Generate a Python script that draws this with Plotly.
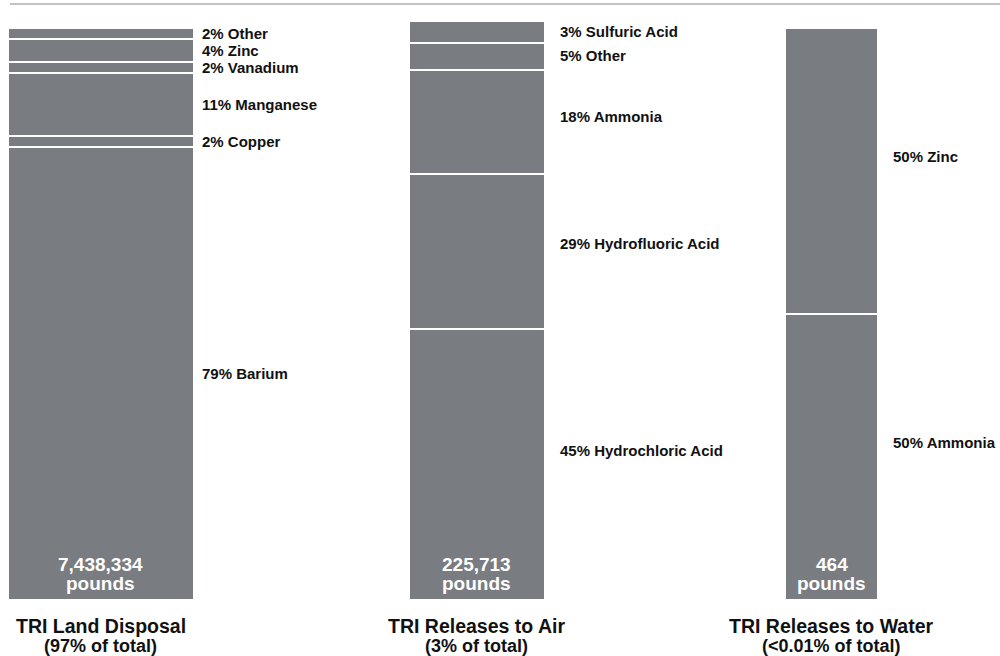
import plotly.graph_objects as go

# ---------------- data ----------------
land_categories = ["Barium", "Copper", "Manganese", "Vanadium", "Zinc", "Other"]
land_values = [79.2, 1.9, 11.1, 1.9, 4.0, 1.9]
land_labels = ["79% Barium", "2% Copper", "11% Manganese", "2% Vanadium", "4% Zinc", "2% Other"]

air_categories = ["Hydrochloric Acid", "Hydrofluoric Acid", "Ammonia", "Other", "Sulfuric Acid"]
air_values = [47.4, 27.0, 18.3, 4.6, 3.9]
air_labels = ["45% Hydrochloric Acid", "29% Hydrofluoric Acid", "18% Ammonia", "5% Other", "3% Sulfuric Acid"]

water_categories = ["Ammonia", "Zinc"]
water_values = [50, 50]
water_labels = ["50% Ammonia", "50% Zinc"]

totals = ["7,438,334", "225,713", "464"]
titles = ["TRI Land Disposal", "TRI Releases to Air", "TRI Releases to Water"]
subtitles = ["(97% of total)", "(3% of total)", "(<0.01% of total)"]

# ---------------- layout / style ----------------
bar_centers = [100.5, 476.7, 831.6]
bar_widths = [186, 136, 93]
label_gaps = [6, 13, 13]
label_fracs = [0.5, 0.55, 0.55]
BAR_COLOR = "#797c81"
FONT = "Liberation Sans, Arial, sans-serif"
TXT = "#111111"

SCALE = 5.72          # pixels per percent
TOP, BOTTOM = 11, 600
PH = BOTTOM - TOP
YMAX = PH / SCALE


def py(pix):
    """pixel row -> paper y"""
    return (BOTTOM - pix) / PH


fig = go.Figure()
annotations = []

groups = [
    (land_values, land_labels, land_categories),
    (air_values, air_labels, air_categories),
    (water_values, water_labels, water_categories),
]

for i, (vals, labs, cats) in enumerate(groups):
    base = 0
    for v, lab, cat in zip(vals, labs, cats):
        fig.add_trace(go.Bar(
            x=[bar_centers[i]], y=[v], base=[base], width=[bar_widths[i]],
            marker=dict(color=BAR_COLOR, line=dict(color="white", width=2)),
            name=cat, showlegend=False, hoverinfo="skip",
        ))
        annotations.append(dict(
            x=bar_centers[i] + bar_widths[i] / 2, xref="x",
            y=base + v * label_fracs[i], yref="y",
            text=f"<b>{lab}</b>", showarrow=False, xanchor="left", yanchor="middle",
            xshift=label_gaps[i], font=dict(family=FONT, size=15, color=TXT),
        ))
        base += v

    annotations.append(dict(
        x=bar_centers[i], xref="x", y=py(564), yref="paper",
        text=f"<b>{totals[i]}</b>", showarrow=False, xanchor="center", yanchor="middle",
        font=dict(family=FONT, size=19, color="white"),
    ))
    annotations.append(dict(
        x=bar_centers[i], xref="x", y=py(583), yref="paper",
        text="<b>pounds</b>", showarrow=False, xanchor="center", yanchor="middle",
        font=dict(family=FONT, size=19, color="white"),
    ))
    annotations.append(dict(
        x=bar_centers[i], xref="x", y=py(626), yref="paper",
        text=f"<b>{titles[i]}</b>", showarrow=False, xanchor="center", yanchor="middle",
        font=dict(family=FONT, size=19.5, color=TXT),
    ))
    annotations.append(dict(
        x=bar_centers[i], xref="x", y=py(646), yref="paper",
        text=f"<b>{subtitles[i]}</b>", showarrow=False, xanchor="center", yanchor="middle",
        font=dict(family=FONT, size=18, color=TXT),
    ))

fig.update_layout(
    width=1000, height=656,
    margin=dict(l=0, r=0, t=TOP, b=656 - BOTTOM, pad=0),
    paper_bgcolor="white", plot_bgcolor="white",
    barmode="overlay", bargap=0,
    xaxis=dict(range=[0, 1000], visible=False, fixedrange=True),
    yaxis=dict(range=[0, YMAX], visible=False, fixedrange=True),
    annotations=annotations,
    shapes=[dict(type="line", xref="paper", yref="paper",
                 x0=0.01, x1=1, y0=py(4), y1=py(4),
                 line=dict(color="#858585", width=1.2))],
)

fig.write_html("out.html")
